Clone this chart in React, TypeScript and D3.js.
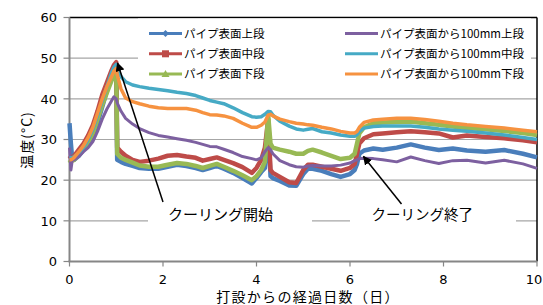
import React from "react"
import * as d3 from "d3"

// elapsed days since casting
const days = [
  0, 0.03, 0.06, 0.1, 0.2, 0.3, 0.4, 0.5, 0.6, 0.7,
  0.8, 0.9, 0.95, 1.0, 1.02, 1.1, 1.2, 1.35, 1.5, 1.7,
  1.9, 2.1, 2.3, 2.5, 2.7, 2.85, 3.0, 3.15, 3.3, 3.5,
  3.7, 3.9, 4.0, 4.1, 4.18, 4.25, 4.3, 4.35, 4.5, 4.7,
  4.85, 5.0, 5.1, 5.2, 5.4, 5.6, 5.8, 6.0, 6.1, 6.15,
  6.2, 6.3, 6.5, 6.7, 7.0, 7.3, 7.6, 7.9, 8.2, 8.5,
  8.9, 9.3, 9.7, 10.0,
]

const surfaceTop = [
  34, 29, 25, 25, 26, 27.5, 29, 31, 34, 38,
  42, 45.5, 47, 48.5, 25, 24.5, 24, 23.5, 23, 22.8,
  22.8, 23.3, 23.8, 23.5, 23, 22.5, 23, 23.5, 22.8, 21.8,
  20.5, 19.2, 20.5, 22, 23, 33, 21, 20.5, 19.8, 18.7,
  18.6, 21.5, 22.8, 22.8, 22.3, 21.5, 20.8, 21.5, 22.5, 24,
  26.5, 27.3, 27.8, 27.5, 28, 28.8, 28, 27.4, 27.8, 27.3,
  27, 27.4, 26.5, 25.6,
]
const surfaceMid = [
  26, 25.5, 25.5, 26, 27.5, 29, 31, 33.5, 37, 41,
  44, 47, 48.3, 49, 28, 27, 26, 25, 24.5, 24.8,
  25.3, 26, 26.2, 25.8, 25.5, 24.8, 25.2, 25.6, 25, 24.2,
  23.2, 21.8, 23, 25, 28, 35, 22.5, 21.8, 20.8, 19.5,
  19.3, 22.5, 23.8, 23.8, 23.3, 22.8, 22.3, 23, 24, 26.5,
  29, 30.3, 31.3, 31.5, 31.8, 32, 31.8, 31.5, 30.5, 31,
  30.6, 30.3, 29.8, 29.3,
]
const surfaceBottom = [
  25, 24.5, 24.8, 25, 26.3, 27.8, 29.5, 31.5, 35, 38.5,
  41.5, 44.5, 46, 47, 26.5, 25.5, 25, 24.3, 23.6, 23.3,
  23.3, 23.8, 24.2, 24, 23.5, 23, 23.5, 24, 23.3, 22.3,
  21.2, 20, 21, 22.5, 24.5, 36, 29, 28, 27.5, 27,
  26.5, 26.5, 27.2, 27.5, 26.8, 26, 25.2, 25.5, 26.5, 29,
  31.5, 33, 34, 34.2, 34.3, 34.4, 34, 33.6, 33.2, 32.8,
  32.5, 32.1, 31.6, 31.1,
]
const depthTop = [
  28, 22.5, 25, 25, 25.8, 27, 28, 29.5, 32, 35,
  37.5, 39.5, 40.5, 40, 39, 37, 35.2, 33.8, 32.7, 31.7,
  31, 30.6, 30.2, 29.8, 29.3, 28.8, 28.3, 28.2, 27.6, 26.8,
  25.8, 25.3, 25, 25.5, 27, 28, 27.5, 26.5, 24.8, 23.8,
  23.3, 23.2, 23.5, 23.6, 23.5, 23.5, 23.7, 24.2, 24.8, 25,
  25.3, 25.4, 25.3, 25, 24.5, 25.7, 24.8, 24.1, 24.8, 24.9,
  24.2, 24.9, 24, 22.9,
]
const depthMid = [
  25.5, 25.5, 25.5, 25.8, 26.8, 28, 30, 32.5, 36, 39.5,
  43, 46.5, 47.8, 48.5, 47.5, 45.5, 44.2, 43.4, 43, 42.6,
  42.3, 42, 41.6, 41.3, 40.8, 40.2, 39.6, 39.2, 38.8, 37.8,
  36.6, 35.6, 35.5, 35.6, 36.2, 36.9, 36.8, 36, 34.5, 33.3,
  32.6, 32.3, 32.5, 32.7, 31.9, 31.6, 31.1, 30.8, 30.8, 31.2,
  32, 32.8, 33.2, 33.3, 33.3, 33.3, 33, 32.6, 32.3, 32,
  31.6, 31.1, 30.5, 30,
]
const depthBottom = [
  25, 25, 25.2, 25.6, 27, 28.5, 30.5, 33, 36.5, 40,
  43, 45.5, 46.8, 47.5, 46, 42.5, 40.2, 39.3, 38.8, 38.2,
  37.8, 37.6, 37.6, 37.6, 37.2, 36.6, 36.1, 36, 35.8, 35.2,
  34, 33, 33, 33.5, 34.3, 36, 36.2, 35.8, 35, 34.4,
  34, 33.8, 33.6, 33.5, 33, 32.6, 32, 31.6, 31.6, 32,
  33, 34.2, 34.8, 35, 35.2, 35.2, 34.9, 34.5, 34, 33.6,
  33.2, 32.8, 32.3, 31.9,
]

const seriesNames = [
  "パイプ表面上段", "パイプ表面中段", "パイプ表面下段",
  "パイプ表面から100mm上段", "パイプ表面から100mm中段", "パイプ表面から100mm下段",
]
const xTicks = [0, 2, 4, 6, 8, 10]
const yTicks = [0, 10, 20, 30, 40, 50, 60]

const W = 543, H = 305
const FONT = "'DejaVu Sans', 'Noto Sans CJK JP', sans-serif"
const JP = "'Noto Sans CJK JP', sans-serif"

const series = [
  {name: seriesNames[0], values: surfaceTop, color: "#4a7ebb", width: 4.5, marker: "diamond"},
  {name: seriesNames[1], values: surfaceMid, color: "#be4b48", width: 4.5, marker: "square"},
  {name: seriesNames[2], values: surfaceBottom, color: "#98b954", width: 4.5, marker: "triangle"},
  {name: seriesNames[3], values: depthTop, color: "#7d60a0", width: 3, marker: null},
  {name: seriesNames[4], values: depthMid, color: "#46aac5", width: 3.5, marker: null},
  {name: seriesNames[5], values: depthBottom, color: "#f69240", width: 3.5, marker: null},
]

const Marker = ({kind, x, y, color}: {kind: string | null, x: number, y: number, color: string}) => {
  if (kind === "diamond") {
    return <path d={`M${x},${y - 3.5}L${x + 3.5},${y}L${x},${y + 3.5}L${x - 3.5},${y}Z`} fill={color} />
  }
  if (kind === "square") {
    return <rect x={x - 3.5} y={y - 3.5} width={7} height={7} fill={color} />
  }
  if (kind === "triangle") {
    return <path d={`M${x},${y - 4}L${x + 4},${y + 3}L${x - 4},${y + 3}Z`} fill={color} />
  }
  return null
}

const App = () => {
  const x = d3.scaleLinear().domain([0, 10]).range([69.5, 537])
  const y = d3.scaleLinear().domain([0, 60]).range([261.5, 17.5])

  const line = (vals: number[]) =>
    d3.line<number>()
      .x((_, i) => x(days[i]))
      .y(d => y(d))
      .curve(d3.curveLinear)(vals) || ""

  // legend layout: two columns of three
  const legendPos = (i: number) => ({
    lx: i < 3 ? 149 : 345,
    ly: 33.5 + (i % 3) * 20.3,
  })

  return (
    <svg width={W} height={H} style={{position: "absolute", left: 0, top: 0, background: "#fff"}}>
      <defs>
        <marker id="arrow" viewBox="0 0 10 10" refX="9" refY="5" markerWidth="9" markerHeight="9"
          markerUnits="userSpaceOnUse" orient="auto">
          <path d="M0,0L10,5L0,10Z" fill="#000" />
        </marker>
      </defs>

      {/* gridlines */}
      {yTicks.filter(t => t > 0 && t < 60).map(t => (
        <line key={t} x1={x(0)} x2={x(10)} y1={y(t)} y2={y(t)} stroke="#a6a6a6" strokeWidth={1.2} />
      ))}

      {/* frame: top and right black, left and bottom gray axes */}
      <line x1={x(0)} x2={x(10)} y1={y(60)} y2={y(60)} stroke="#000" strokeWidth={1.5} />
      <line x1={x(10)} x2={x(10)} y1={y(60)} y2={y(0)} stroke="#000" strokeWidth={1.5} />
      <line x1={x(0)} x2={x(0)} y1={y(60)} y2={y(0) + 0.5} stroke="#868686" strokeWidth={2} />
      <line x1={x(0) - 1} x2={x(10)} y1={y(0)} y2={y(0)} stroke="#868686" strokeWidth={2} />

      {/* ticks */}
      {yTicks.map(t => (
        <g key={t}>
          <line x1={x(0) - 6} x2={x(0)} y1={y(t)} y2={y(t)} stroke="#868686" strokeWidth={1.2} />
          <text x={57} y={y(t)} dy="0.36em" textAnchor="end" fontFamily={FONT} fontSize={13} fill="#000">{t}</text>
        </g>
      ))}
      {xTicks.map(t => (
        <g key={t}>
          <line x1={x(t)} x2={x(t)} y1={y(0)} y2={y(0) + 5} stroke="#868686" strokeWidth={1.2} />
          <text x={Math.min(x(t), W - 9)} y={283.5} textAnchor="middle" fontFamily={FONT} fontSize={13}
            fill="#000">{t}</text>
        </g>
      ))}

      {/* legend and label boxes sit over the gridlines */}
      <rect x={138} y={18.5} width={393} height={66} fill="#fff" />
      <rect x={148} y={203} width={164} height={30} fill="#fff" />
      <rect x={350} y={203} width={166} height={30} fill="#fff" />

      {/* series */}
      {series.map(s => (
        <path key={s.name} d={line(s.values)} fill="none" stroke={s.color} strokeWidth={s.width}
          strokeLinejoin="round" />
      ))}

      {/* legend */}
      {series.map((s, i) => {
        const {lx, ly} = legendPos(i)
        return (
          <g key={s.name}>
            <line x1={lx} x2={lx + 33} y1={ly} y2={ly} stroke={s.color} strokeWidth={3} />
            <Marker kind={s.marker} x={lx + 16.5} y={ly} color={s.color} />
            <text x={lx + 35} y={ly} dy="0.38em" fontFamily={JP} fontSize={11.5} fill="#000">{s.name}</text>
          </g>
        )
      })}

      {/* annotations */}
      <line x1={163} y1={202} x2={117.5} y2={63} stroke="#000" strokeWidth={1.5} markerEnd="url(#arrow)" />
      <line x1={401.5} y1={204} x2={363.5} y2={156.5} stroke="#000" strokeWidth={1.5} markerEnd="url(#arrow)" />
      <text x={168} y={220} fontFamily={JP} fontSize={15} fill="#000">クーリング開始</text>
      <text x={371.5} y={220} fontFamily={JP} fontSize={14.5} fill="#000">クーリング終了</text>

      {/* axis titles */}
      <text transform="translate(32,140) rotate(-90)" textAnchor="middle" fontFamily={JP} fontSize={14}
        letterSpacing={1} fill="#000">温度(°C)</text>
      <text x={308} y={302} textAnchor="middle" fontFamily={JP} fontSize={14} letterSpacing={1.3}
        fill="#000">打設からの経過日数（日）</text>
    </svg>
  )
}

export default App
